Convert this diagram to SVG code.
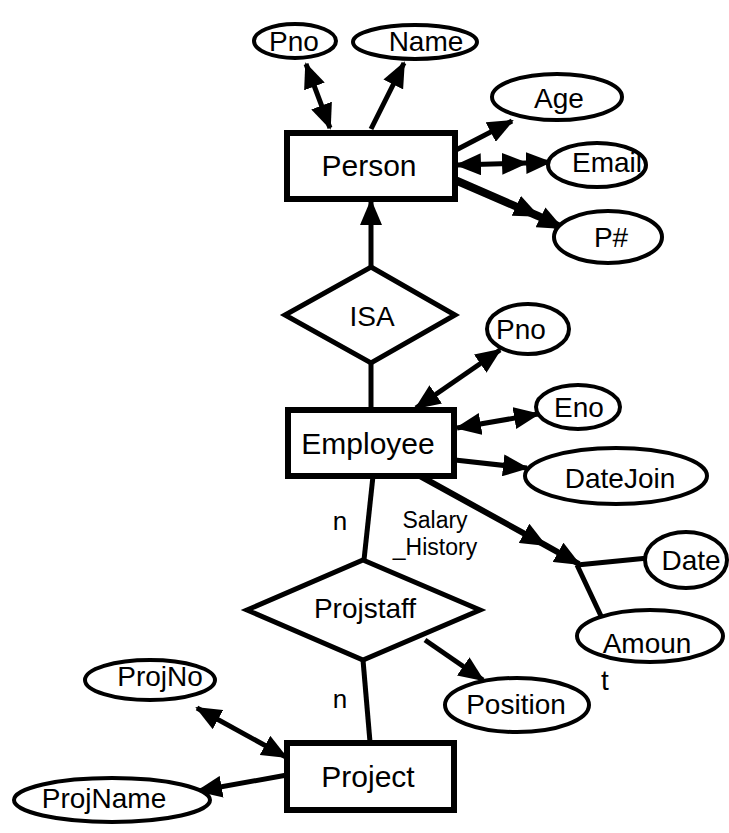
<svg xmlns="http://www.w3.org/2000/svg" width="729" height="833" viewBox="0 0 729 833">
<defs>
<marker id="ah" markerUnits="userSpaceOnUse" markerWidth="26" markerHeight="22" refX="24" refY="11" orient="auto">
<path d="M0,0 L26,11 L0,22 z" fill="#000"/>
</marker>
<marker id="ahs" markerUnits="userSpaceOnUse" markerWidth="26" markerHeight="22" refX="24" refY="11" orient="auto-start-reverse">
<path d="M0,0 L26,11 L0,22 z" fill="#000"/>
</marker>
<style>
text{font-family:"Liberation Sans",Arial,sans-serif;fill:#000;text-anchor:middle}
.ent{fill:#fff;stroke:#000;stroke-width:6}
.att{fill:#fff;stroke:#000;stroke-width:4}
.rel{fill:#fff;stroke:#000;stroke-width:5}
.ln{fill:none;stroke:#000;stroke-width:5}
.big{font-size:30px}
.med{font-size:28px}
.sm{font-size:23px}
.n{font-size:26px}
</style>
</defs>
<rect width="729" height="833" fill="#fff"/>
<g id="connectors">
<line class="ln" x1="330" y1="128" x2="306" y2="64" marker-start="url(#ahs)" marker-end="url(#ah)"/>
<line class="ln" x1="371" y1="129" x2="404" y2="63" marker-end="url(#ah)"/>
<line class="ln" x1="456" y1="150" x2="512" y2="121" marker-end="url(#ah)"/>
<path class="ln" d="M457,165 L526,163 L550,162" marker-start="url(#ahs)" marker-mid="url(#ah)" marker-end="url(#ah)"/>
<path class="ln" style="stroke-width:8" d="M455,180 L538,216 L562,228" marker-mid="url(#ah)" marker-end="url(#ah)"/>
<line class="ln" x1="371" y1="267" x2="371" y2="201" marker-end="url(#ah)"/>
<line class="ln" x1="371" y1="363" x2="371" y2="410"/>
<line class="ln" x1="416" y1="408" x2="500" y2="350" marker-start="url(#ahs)" marker-end="url(#ah)"/>
<line class="ln" x1="457" y1="428" x2="538" y2="414" marker-start="url(#ahs)" marker-end="url(#ah)"/>
<line class="ln" x1="455" y1="460" x2="527" y2="468" marker-end="url(#ah)"/>
<path class="ln" style="stroke-width:6" d="M420,476 L545,545 L579,564" marker-mid="url(#ah)" marker-end="url(#ah)"/>
<line class="ln" x1="577" y1="565" x2="648" y2="558"/>
<line class="ln" x1="577" y1="565" x2="601" y2="616"/>
<line class="ln" x1="373" y1="476" x2="364" y2="560"/>
<line class="ln" x1="363" y1="660" x2="370" y2="742"/>
<line class="ln" x1="425" y1="640" x2="483" y2="680" marker-end="url(#ah)"/>
<line class="ln" x1="286" y1="757" x2="197" y2="708" marker-start="url(#ahs)" marker-end="url(#ah)"/>
<line class="ln" x1="287" y1="775" x2="198" y2="791" marker-end="url(#ah)"/>
</g>
<g id="person"><rect class="ent" x="287" y="133" width="168" height="66"/><text class="big" x="369" y="176">Person</text></g>
<g id="pno1"><ellipse class="att" cx="295" cy="41" rx="41" ry="17"/><text class="med" x="294" y="51">Pno</text></g>
<g id="name"><ellipse class="att" cx="415" cy="42" rx="62" ry="17"/><text class="med" x="426" y="51">Name</text></g>
<g id="age"><ellipse class="att" cx="557" cy="97" rx="65" ry="23"/><text class="med" x="559" y="108">Age</text></g>
<g id="email"><ellipse class="att" cx="597" cy="165" rx="49" ry="22"/><text class="med" x="572" y="172" style="text-anchor:start">Email</text></g>
<g id="pnum"><ellipse class="att" cx="608" cy="237" rx="54" ry="26"/><text class="med" x="611" y="247">P#</text></g>
<g id="isa"><polygon class="rel" points="371,267 455,315 371,363 285,315"/><text class="med" x="372" y="326">ISA</text></g>
<g id="employee"><rect class="ent" x="288" y="410" width="166" height="66"/><text class="big" x="368" y="454">Employee</text></g>
<g id="pno2"><ellipse class="att" cx="528" cy="329" rx="41" ry="25"/><text class="med" x="521" y="339">Pno</text></g>
<g id="eno"><ellipse class="att" cx="578" cy="407" rx="42" ry="22"/><text class="med" x="579" y="417">Eno</text></g>
<g id="datejoin"><ellipse class="att" cx="616" cy="476" rx="91" ry="28"/><text class="med" x="620" y="488">DateJoin</text></g>
<g id="salary"><text class="sm" x="435" y="528">Salary</text><text class="sm" x="435" y="555">_History</text></g>
<g id="date"><ellipse class="att" cx="686" cy="560" rx="41" ry="28"/><text class="med" x="691" y="570">Date</text></g>
<g id="amount"><ellipse class="att" cx="650" cy="636" rx="73" ry="26"/><text class="med" x="647" y="653">Amoun</text><text class="med" x="605" y="690">t</text></g>
<g id="n1"><text class="n" x="340" y="530">n</text></g>
<g id="projstaff"><polygon class="rel" points="363,560 480,610 363,660 247,610"/><text class="med" x="365" y="618">Projstaff</text></g>
<g id="n2"><text class="n" x="340" y="708">n</text></g>
<g id="position"><ellipse class="att" cx="517" cy="705" rx="72" ry="27"/><text class="med" x="516" y="714">Position</text></g>
<g id="project"><rect class="ent" x="287" y="743" width="167" height="67"/><text class="big" x="368" y="787">Project</text></g>
<g id="projno"><ellipse class="att" cx="150" cy="680" rx="65" ry="20"/><text class="med" x="160" y="686">ProjNo</text></g>
<g id="projname"><ellipse class="att" cx="112" cy="800" rx="98" ry="22"/><text class="med" x="104" y="808">ProjName</text></g>
</svg>
